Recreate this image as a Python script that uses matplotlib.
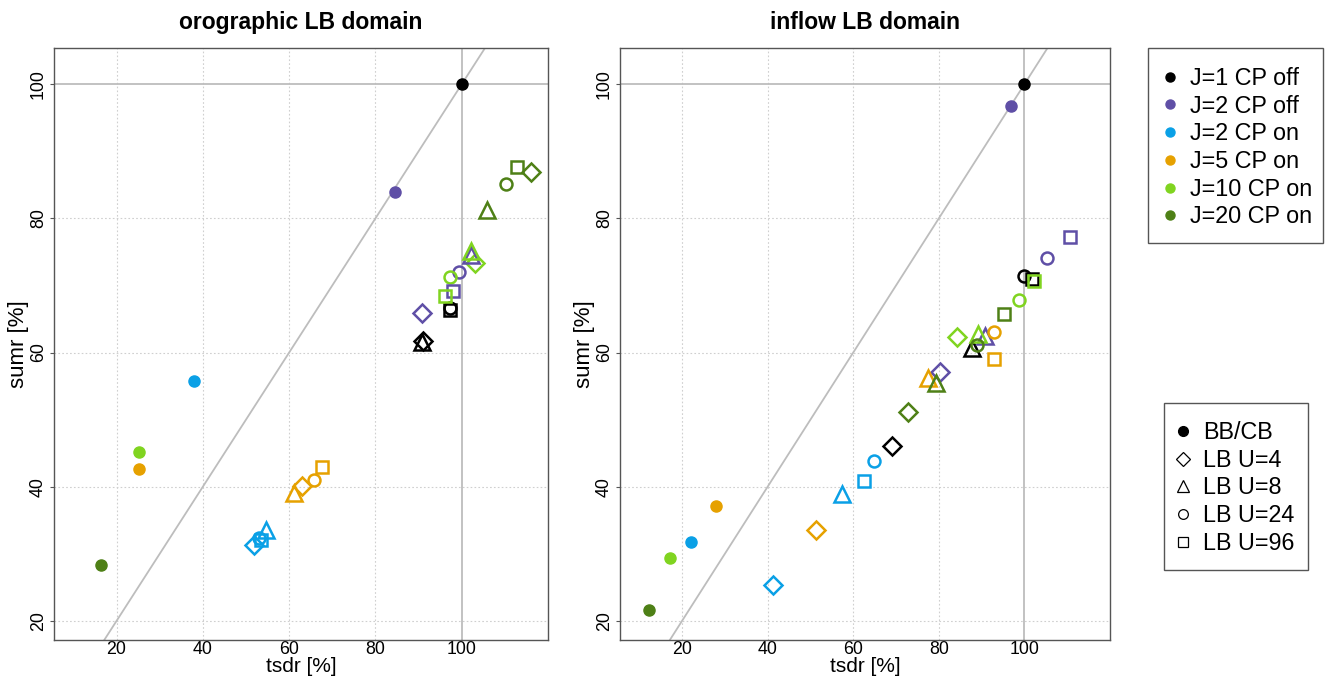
import matplotlib
matplotlib.use("Agg")
import matplotlib.pyplot as plt
from matplotlib.lines import Line2D
from matplotlib.patches import Rectangle

plt.rcParams['font.family'] = ['Liberation Sans', 'DejaVu Sans']

# configurations (colours) and LB variants (markers)
configs = ["J=1 CP off", "J=2 CP off", "J=2 CP on", "J=5 CP on", "J=10 CP on", "J=20 CP on"]
colors = ["#000000", "#5f4fa6", "#0aa0e6", "#e6a100", "#80d420", "#4e8016"]
variants = ["BB/CB", "LB U=4", "LB U=8", "LB U=24", "LB U=96"]
markers = ["o", "D", "^", "o", "s"]

# orographic LB domain: tsdr / sumr per configuration
oro_bb_x = [100.0, 84.5, 37.9, 25.1, 25.3, 16.5]
oro_bb_y = [100.0, 84.0, 55.7, 42.6, 45.2, 28.3]
oro_u4_x = [91.1, 90.9, 51.9, 62.9, 103.1, 116.0]
oro_u4_y = [61.7, 65.9, 31.3, 40.1, 73.3, 86.9]
oro_u8_x = [90.8, 102.1, 54.6, 61.1, 102.1, 105.9]
oro_u8_y = [61.6, 74.6, 33.6, 39.0, 75.1, 81.3]
oro_u24_x = [97.3, 99.4, 53.0, 65.8, 97.4, 110.3]
oro_u24_y = [66.6, 72.0, 32.3, 41.0, 71.2, 85.1]
oro_u96_x = [97.3, 97.9, 53.4, 67.6, 96.1, 112.7]
oro_u96_y = [66.4, 69.2, 32.0, 42.9, 68.5, 87.7]

# inflow LB domain
inf_bb_x = [100.0, 96.8, 22.1, 27.9, 17.2, 12.3]
inf_bb_y = [100.0, 96.7, 31.7, 37.2, 29.4, 21.6]
inf_u4_x = [69.0, 80.3, 41.2, 51.3, 84.3, 72.9]
inf_u4_y = [46.0, 57.1, 25.3, 33.6, 62.3, 51.2]
inf_u8_x = [87.7, 90.8, 57.3, 77.4, 89.1, 79.3]
inf_u8_y = [60.7, 62.4, 38.9, 56.2, 62.7, 55.5]
inf_u24_x = [100.0, 105.2, 64.8, 92.8, 98.8, 89.0]
inf_u24_y = [71.4, 74.1, 43.9, 63.1, 67.8, 61.1]
inf_u96_x = [101.7, 110.6, 62.5, 92.8, 102.3, 95.2]
inf_u96_y = [71.0, 77.2, 40.8, 59.1, 70.6, 65.7]

ticks = [20, 40, 60, 80, 100]

W, H = 1325, 683
fig = plt.figure(figsize=(W / 100, H / 100), dpi=100)
ax1 = fig.add_axes([54 / W, 1 - 640 / H, 494 / W, 592 / H])
ax2 = fig.add_axes([620 / W, 1 - 640 / H, 490 / W, 592 / H])

panels = [
    (ax1, "orographic LB domain",
     [(oro_bb_x, oro_bb_y), (oro_u4_x, oro_u4_y), (oro_u8_x, oro_u8_y),
      (oro_u24_x, oro_u24_y), (oro_u96_x, oro_u96_y)]),
    (ax2, "inflow LB domain",
     [(inf_bb_x, inf_bb_y), (inf_u4_x, inf_u4_y), (inf_u8_x, inf_u8_y),
      (inf_u24_x, inf_u24_y), (inf_u96_x, inf_u96_y)]),
]

sizes = [8.0, 8.8, 11.5, 8.6, 8.6]

for ax, title, series in panels:
    ax.set_xlim(5.5, 120)
    ax.set_ylim(17.15, 105.4)
    for t in ticks[:-1]:
        ax.axvline(t, color="#cfcfcf", lw=0.8, ls=(0, (1.5, 2)), zorder=0)
        ax.axhline(t, color="#cfcfcf", lw=0.8, ls=(0, (1.5, 2)), zorder=0)
    ax.axvline(100, color="#bdbdbd", lw=1.3, zorder=1)
    ax.axhline(100, color="#bdbdbd", lw=1.3, zorder=1)
    ax.axline((0, 0), (100, 100), color="#bdbdbd", lw=1.3, zorder=1)

    for k, (xs, ys) in enumerate(series):
        for j in range(len(configs)):
            if k == 0:
                ax.plot(xs[j], ys[j], marker="o", ms=sizes[k], color=colors[j],
                        ls="none", zorder=3)
            else:
                ax.plot(xs[j], ys[j], marker=markers[k], ms=sizes[k], mfc="none",
                        mec=colors[j], mew=1.8, ls="none", zorder=3)

    ax.set_xticks(ticks)
    ax.set_yticks(ticks)
    ax.tick_params(axis="both", labelsize=12.8, length=3, width=0.8, color="#555555", pad=2)
    ax.tick_params(axis="x", length=0, pad=0.8)
    for lab in ax.get_yticklabels():
        lab.set_rotation(90)
        lab.set_va("center")
    for s in ax.spines.values():
        s.set_color("#555555")
        s.set_linewidth(1.0)
    ax.set_xlabel("tsdr [%]", fontsize=15, labelpad=-0.6)
    ax.set_ylabel("sumr [%]", fontsize=16, labelpad=1)
    ax.set_title(title, fontsize=16.5, fontweight="bold", pad=14)

# legend frames
fig.patches.append(Rectangle((1148 / W, 1 - 243 / H), 175 / W, 195 / H, transform=fig.transFigure,
                             fill=False, edgecolor="#555555", lw=1.0))
fig.patches.append(Rectangle((1164 / W, 1 - 570 / H), 144 / W, 167 / H, transform=fig.transFigure,
                             fill=False, edgecolor="#555555", lw=1.0))

# legend for configurations
h1 = [Line2D([], [], marker="o", ls="none", color=c, ms=6.5) for c in colors]
fig.legend(h1, configs, loc="upper left", bbox_to_anchor=(1161 / W, 1 - 67 / H),
           frameon=False, fontsize=16.8, borderpad=0, labelspacing=0.2,
           handletextpad=0.45, handlelength=0.8, borderaxespad=0)

# legend for LB variants
h2 = [Line2D([], [], marker="o", ls="none", color="black", ms=7)]
for m in markers[1:]:
    h2.append(Line2D([], [], marker=m, ls="none", mfc="none", mec="black",
                     mew=0.9, ms={"D": 7.5, "^": 9.0, "o": 7.0, "s": 7.0}[m]))
fig.legend(h2, variants, loc="upper left", bbox_to_anchor=(1174 / W, 1 - 421 / H),
           frameon=False, fontsize=16.8, borderpad=0, labelspacing=0.2,
           handletextpad=0.45, handlelength=0.8, borderaxespad=0)

fig.savefig("out.png", dpi=100)
